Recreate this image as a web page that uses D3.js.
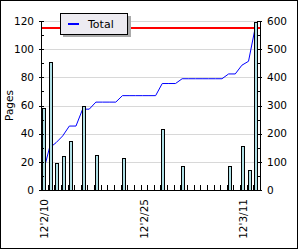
<!DOCTYPE html>
<html><head><meta charset="utf-8">
<script src="https://cdn.jsdelivr.net/npm/d3@7"></script>
<style>html,body{margin:0;padding:0;background:#fff}svg{display:block}text{font-family:"DejaVu Sans",sans-serif}</style>
</head><body>
<script>
const days = ["12'2/10","12'2/11","12'2/12","12'2/13","12'2/14","12'2/15","12'2/16","12'2/17","12'2/18","12'2/19",
  "12'2/20","12'2/21","12'2/22","12'2/23","12'2/24","12'2/25","12'2/26","12'2/27","12'2/28","12'2/29",
  "12'3/1","12'3/2","12'3/3","12'3/4","12'3/5","12'3/6","12'3/7","12'3/8","12'3/9","12'3/10",
  "12'3/11","12'3/12","12'3/13"];
const pages = [58,91,19,24,35,0,60,0,25,0,0,0,23,0,0,0,0,0,43,0,0,17,0,0,0,0,0,0,17,0,31,14,119];
const totals = [58,149,168,192,227,227,287,287,312,312,312,312,335,335,335,335,335,335,378,378,378,395,395,395,395,395,395,395,412,412,443,457,575];
const goal = 575;
const labelDays = ["12'2/10","12'2/25","12'3/11"];
const leftTicks = [0,20,40,60,80,100,120];
const rightTicks = [0,100,200,300,400,500,600];
const seriesName = "Total";
const axisTitle = "Pages";

const W=300,H=250;
const svg=d3.select("body").append("svg").attr("width",W).attr("height",H);
const L=41,R=260,T=21,B=190;
const x=d3.scaleBand().domain(days).range([L,R]).padding(0);
const yL=d3.scaleLinear().domain([0,120]).range([B,T]);
const yR=d3.scaleLinear().domain([0,600]).range([B,T]);
const px=v=>Math.round(v)+0.5;

svg.append("rect").attr("x",0.5).attr("y",0.5).attr("width",297).attr("height",248).attr("fill","#fff").attr("stroke","#000");

// grid
svg.append("g").selectAll("line").data(leftTicks.filter(d=>d>0)).join("line")
  .attr("x1",L).attr("x2",R).attr("y1",d=>px(yL(d))).attr("y2",d=>px(yL(d)))
  .attr("stroke","#d8d8d8");

// total line
svg.append("path").datum(totals)
  .attr("d",d3.line().x((d,i)=>x(days[i])+0.27*x.bandwidth()).y(d=>yR(d)))
  .attr("fill","none").attr("stroke","#0000ff").attr("stroke-width",1);

// goal line
svg.append("line").attr("x1",L).attr("x2",R).attr("y1",yR(goal)).attr("y2",yR(goal))
  .attr("stroke","#ff0000").attr("stroke-width",2);

// bars
svg.append("g").selectAll("rect").data(pages.map((v,i)=>({d:days[i],v})).filter(o=>o.v>0)).join("rect")
  .attr("x",o=>Math.round(x(o.d))+1.5).attr("width",3)
  .attr("y",o=>Math.round(yL(o.v))+0.5).attr("height",o=>B-Math.round(yL(o.v)))
  .attr("fill","#b0e0e6").attr("stroke","#000").attr("stroke-width",1);

// axes lines
const ax=svg.append("g").attr("stroke","#000").attr("stroke-width",1);
ax.append("line").attr("x1",px(L)).attr("x2",px(L)).attr("y1",T).attr("y2",B+0.5);
ax.append("line").attr("x1",px(R)).attr("x2",px(R)).attr("y1",T).attr("y2",B+0.5);
ax.append("line").attr("x1",L).attr("x2",R+1).attr("y1",px(B)).attr("y2",px(B));
// left ticks
const lMinor=d3.range(0,121,10);
ax.selectAll(".lt").data(lMinor).join("line")
  .attr("x1",d=>d%20===0?L-2:L).attr("x2",L+3).attr("y1",d=>px(yL(d))).attr("y2",d=>px(yL(d)));
const rMinor=d3.range(0,601,50);
ax.selectAll(".rt").data(rMinor).join("line")
  .attr("x1",R-3).attr("x2",d=>d%100===0?R+2:R).attr("y1",d=>px(yR(d))).attr("y2",d=>px(yR(d)));
// bottom ticks
ax.selectAll(".bt").data(days.slice(1)).join("line")
  .attr("x1",d=>px(x(d))).attr("x2",d=>px(x(d))).attr("y1",B-5).attr("y2",B);

// labels
const fs=10.5;
svg.append("g").selectAll("text").data(leftTicks).join("text")
  .attr("x",34).attr("y",d=>yL(d)).attr("dy","0.36em").attr("text-anchor","end")
  .attr("font-size",fs).text(d=>d);
svg.append("g").selectAll("text").data(rightTicks).join("text")
  .attr("x",267).attr("y",d=>yR(d)).attr("dy","0.36em").attr("text-anchor","start")
  .attr("font-size",fs).text(d=>d);
svg.append("g").selectAll("text").data(labelDays).join("text")
  .attr("transform",d=>`translate(${x(d)+x.bandwidth()/2},199) rotate(-90)`)
  .attr("dy","0.36em").attr("text-anchor","end").attr("font-size",fs).text(d=>d);
svg.append("text").attr("transform",`translate(9,${(T+B)/2}) rotate(-90)`)
  .attr("dy","0.36em").attr("text-anchor","middle").attr("font-size",fs).text(axisTitle);

// legend
const lg=svg.append("g");
lg.append("rect").attr("x",63).attr("y",16).attr("width",68).attr("height",21).attr("fill","#aaaaaa");
lg.append("rect").attr("x",60.5).attr("y",13.5).attr("width",67).attr("height",21).attr("fill","#edebf1").attr("stroke","#000");
lg.append("line").attr("x1",68).attr("x2",79).attr("y1",24).attr("y2",24).attr("stroke","#0000ff").attr("stroke-width",2);
lg.append("text").attr("x",88).attr("y",28).attr("font-size",11).text(seriesName);
</script>
</body></html>
